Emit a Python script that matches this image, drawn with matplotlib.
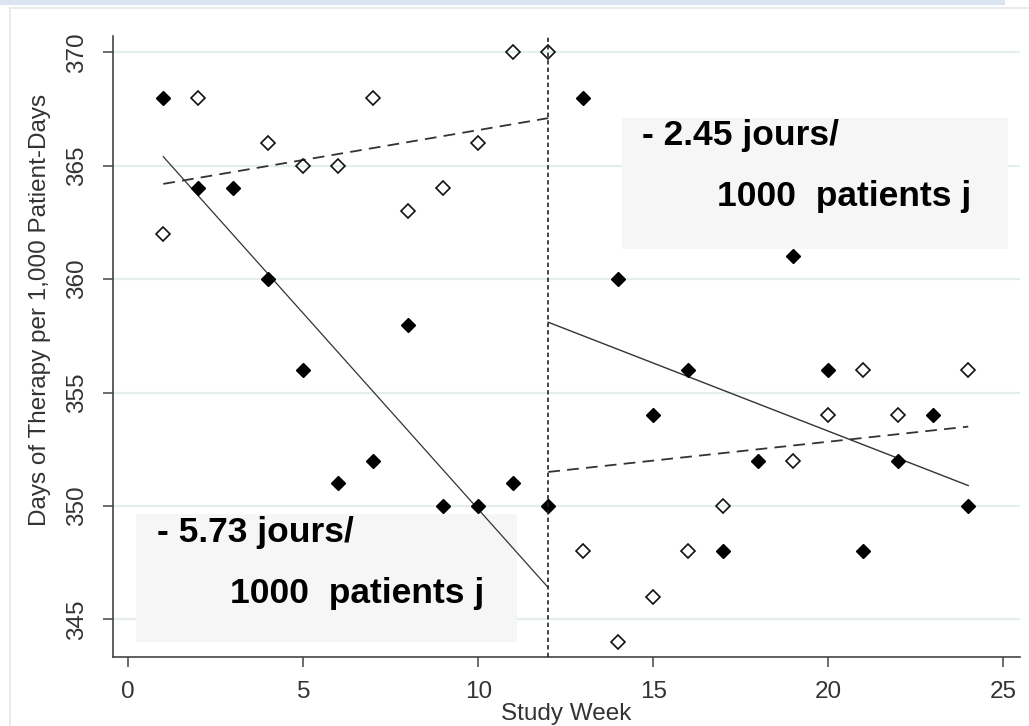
import matplotlib
matplotlib.use("Agg")
import matplotlib.pyplot as plt
from matplotlib.patches import Rectangle

plt.rcParams['font.family'] = ['Liberation Sans', 'DejaVu Sans']

# Données
semaines = list(range(1, 25))
dot_pleins = [368, 364, 364, 360, 356, 351, 352, 358, 350, 350, 351, 350,
              368, 360, 354, 356, 348, 352, 361, 356, 348, 352, 354, 350]

semaines_vides = [1, 2, 4, 5, 6, 7, 8, 9, 10, 11, 12,
                  13, 14, 15, 16, 17, 19, 20, 21, 22, 24]
dot_vides = [362, 368, 366, 365, 365, 368, 363, 364, 366, 370, 370,
             348, 344, 346, 348, 350, 352, 354, 356, 354, 356]

# Droites de tendance (avant / après l'intervention)
x_avant = [1, 12]
x_apres = [12, 24]
tend_pleins_avant = [365.4, 346.4]
tend_pleins_apres = [358.1, 350.9]
tend_vides_avant = [364.2, 367.1]
tend_vides_apres = [351.5, 353.5]

semaine_intervention = 12

yticks = [345, 350, 355, 360, 365, 370]
xticks = [0, 5, 10, 15, 20, 25]

texte_haut = ["- 2.45 jours/", "1000  patients j"]
texte_bas = ["- 5.73 jours/", "1000  patients j"]

fig = plt.figure(figsize=(10.29, 7.26), dpi=100)
ax = fig.add_axes([0.1095, 0.095, 0.8818, 0.8554])

# Cadre de la page
fig.add_artist(Rectangle((0, 0.9931), 0.9767, 0.0069, transform=fig.transFigure,
                         facecolor='#dbe5f1', edgecolor='none'))
fig.add_artist(Rectangle((0.0097, -0.05), 1.1, 1.039, transform=fig.transFigure,
                         facecolor='none', edgecolor='#e6ecec', lw=1.5))

# Encadrés gris
ax.add_patch(Rectangle((14.10, 361.32), 11.05, 5.79, facecolor='#f6f6f6',
                       edgecolor='none', zorder=1.5))
ax.add_patch(Rectangle((0.22, 344.0), 10.88, 5.63, facecolor='#f6f6f6',
                       edgecolor='none', zorder=1.5))

# Tendances
ax.plot(x_avant, tend_pleins_avant, color='#333333', lw=0.9, zorder=2)
ax.plot(x_apres, tend_pleins_apres, color='#333333', lw=1.0, zorder=2)
ax.plot(x_avant, tend_vides_avant, color='#333333', lw=1.3, ls=(0, (6.5, 4)), zorder=2)
ax.plot(x_apres, tend_vides_apres, color='#333333', lw=1.3, ls=(0, (6.5, 4)), zorder=2)

# Points
ax.plot(semaines_vides, dot_vides, ls='none', marker='D', ms=6.8,
        markerfacecolor='none', markeredgecolor='#111111', mew=1.2, zorder=3)
ax.plot(semaines, dot_pleins, ls='none', marker='D', ms=7.2,
        color='#000000', zorder=3)

# Ligne d'intervention
ax.axvline(semaine_intervention, color='#222222', lw=1.2, ls=(0, (2.6, 1.9)), zorder=4)

# Annotations
ax.text(14.68, 366.34, texte_haut[0], fontsize=25.5, fontweight='bold', va='center', zorder=5)
ax.text(16.82, 363.65, texte_haut[1], fontsize=25.5, fontweight='bold', va='center', zorder=5)
ax.text(0.82, 348.84, texte_bas[0], fontsize=25.5, fontweight='bold', va='center', zorder=5)
ax.text(2.91, 346.15, texte_bas[1], fontsize=25.5, fontweight='bold', va='center', zorder=5)

ax.set_xlim(-0.446, 25.48)
ax.set_ylim(343.34, 370.72)
ax.set_xticks(xticks)
ax.set_yticks(yticks)

ax.yaxis.grid(True, color='#e5edef', lw=1.6)
ax.set_axisbelow(True)

for s in ['top', 'right']:
    ax.spines[s].set_visible(False)
for s in ['left', 'bottom']:
    ax.spines[s].set_color('#444444')
    ax.spines[s].set_linewidth(1.2)

ax.tick_params(axis='both', colors='#444444', length=7, width=1.1,
               labelsize=17.5, labelcolor='#333333', pad=10.5)
ax.tick_params(axis='y', labelrotation=90)
for lbl in ax.get_yticklabels():
    lbl.set_va('center')

ax.set_xlabel("Study Week", fontsize=17.5, color='#333333')
ax.set_ylabel("Days of Therapy per 1,000 Patient-Days", fontsize=17.5, color='#333333')
ax.xaxis.set_label_coords(0.5, -0.074)
ax.yaxis.set_label_coords(-0.080, 0.559)
ax.xaxis.label.set_va('top')
ax.yaxis.label.set_va('center')

fig.savefig("out.png", dpi=100)
